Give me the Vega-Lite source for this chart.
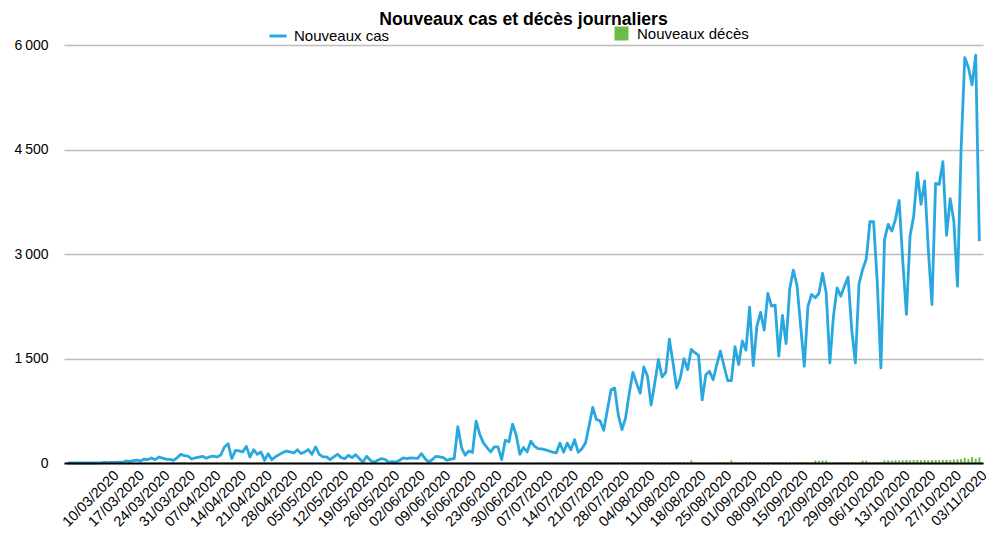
{
"$schema": "https://vega.github.io/schema/vega-lite/v6.json",
"width": 919, "height": 418,
"autosize": "none",
"padding": {"left": 64, "top": 45, "right": 17, "bottom": 84},
"background": "white",
"title": {"text": "Nouveaux cas et décès journaliers", "font": "Liberation Sans", "fontSize": 17.6, "fontWeight": "bold", "color": "black", "anchor": "middle", "offset": -3},
"data": {"values": [
{"date":"27/02/2020","cas":0,"deces":0},{"date":"28/02/2020","cas":0,"deces":0},{"date":"29/02/2020","cas":0,"deces":0},
{"date":"01/03/2020","cas":0,"deces":0},{"date":"02/03/2020","cas":1,"deces":0},{"date":"03/03/2020","cas":0,"deces":0},{"date":"04/03/2020","cas":1,"deces":0},{"date":"05/03/2020","cas":0,"deces":0},{"date":"06/03/2020","cas":2,"deces":1},{"date":"07/03/2020","cas":3,"deces":0},{"date":"08/03/2020","cas":8,"deces":1},{"date":"09/03/2020","cas":5,"deces":0},{"date":"10/03/2020","cas":10,"deces":1},{"date":"11/03/2020","cas":7,"deces":0},{"date":"12/03/2020","cas":12,"deces":1},{"date":"13/03/2020","cas":10,"deces":2},{"date":"14/03/2020","cas":29,"deces":1},{"date":"15/03/2020","cas":20,"deces":3},{"date":"16/03/2020","cas":35,"deces":2},{"date":"17/03/2020","cas":40,"deces":1},{"date":"18/03/2020","cas":30,"deces":4},{"date":"19/03/2020","cas":57,"deces":3},{"date":"20/03/2020","cas":50,"deces":2},{"date":"21/03/2020","cas":72,"deces":5},{"date":"22/03/2020","cas":48,"deces":4},{"date":"23/03/2020","cas":86,"deces":6},{"date":"24/03/2020","cas":70,"deces":3},{"date":"25/03/2020","cas":55,"deces":5},{"date":"26/03/2020","cas":52,"deces":4},{"date":"27/03/2020","cas":38,"deces":7},{"date":"28/03/2020","cas":75,"deces":5},{"date":"29/03/2020","cas":124,"deces":6},{"date":"30/03/2020","cas":105,"deces":8},{"date":"31/03/2020","cas":100,"deces":5},
{"date":"01/04/2020","cas":57,"deces":6},{"date":"02/04/2020","cas":75,"deces":5},{"date":"03/04/2020","cas":86,"deces":8},{"date":"04/04/2020","cas":96,"deces":7},{"date":"05/04/2020","cas":67,"deces":9},{"date":"06/04/2020","cas":90,"deces":6},{"date":"07/04/2020","cas":100,"deces":7},{"date":"08/04/2020","cas":86,"deces":8},{"date":"09/04/2020","cas":115,"deces":5},{"date":"10/04/2020","cas":230,"deces":6},{"date":"11/04/2020","cas":277,"deces":4},{"date":"12/04/2020","cas":62,"deces":7},{"date":"13/04/2020","cas":182,"deces":5},{"date":"14/04/2020","cas":175,"deces":6},{"date":"15/04/2020","cas":158,"deces":4},{"date":"16/04/2020","cas":239,"deces":5},{"date":"17/04/2020","cas":86,"deces":3},{"date":"18/04/2020","cas":191,"deces":4},{"date":"19/04/2020","cas":124,"deces":5},{"date":"20/04/2020","cas":158,"deces":3},{"date":"21/04/2020","cas":38,"deces":4},{"date":"22/04/2020","cas":134,"deces":2},{"date":"23/04/2020","cas":48,"deces":3},{"date":"24/04/2020","cas":90,"deces":4},{"date":"25/04/2020","cas":120,"deces":2},{"date":"26/04/2020","cas":150,"deces":3},{"date":"27/04/2020","cas":172,"deces":2},{"date":"28/04/2020","cas":160,"deces":3},{"date":"29/04/2020","cas":143,"deces":1},{"date":"30/04/2020","cas":191,"deces":2},
{"date":"01/05/2020","cas":135,"deces":2},{"date":"02/05/2020","cas":159,"deces":1},{"date":"03/05/2020","cas":193,"deces":3},{"date":"04/05/2020","cas":125,"deces":2},{"date":"05/05/2020","cas":231,"deces":1},{"date":"06/05/2020","cas":125,"deces":2},{"date":"07/05/2020","cas":87,"deces":1},{"date":"08/05/2020","cas":87,"deces":2},{"date":"09/05/2020","cas":48,"deces":3},{"date":"10/05/2020","cas":90,"deces":1},{"date":"11/05/2020","cas":125,"deces":2},{"date":"12/05/2020","cas":77,"deces":1},{"date":"13/05/2020","cas":63,"deces":1},{"date":"14/05/2020","cas":111,"deces":2},{"date":"15/05/2020","cas":77,"deces":1},{"date":"16/05/2020","cas":120,"deces":0},{"date":"17/05/2020","cas":63,"deces":1},{"date":"18/05/2020","cas":14,"deces":2},{"date":"19/05/2020","cas":96,"deces":1},{"date":"20/05/2020","cas":39,"deces":0},{"date":"21/05/2020","cas":10,"deces":1},{"date":"22/05/2020","cas":40,"deces":1},{"date":"23/05/2020","cas":63,"deces":0},{"date":"24/05/2020","cas":53,"deces":1},{"date":"25/05/2020","cas":14,"deces":0},{"date":"26/05/2020","cas":20,"deces":1},{"date":"27/05/2020","cas":14,"deces":0},{"date":"28/05/2020","cas":39,"deces":1},{"date":"29/05/2020","cas":72,"deces":0},{"date":"30/05/2020","cas":63,"deces":1},{"date":"31/05/2020","cas":72,"deces":0},
{"date":"01/06/2020","cas":70,"deces":0},{"date":"02/06/2020","cas":67,"deces":1},{"date":"03/06/2020","cas":135,"deces":0},{"date":"04/06/2020","cas":63,"deces":1},{"date":"05/06/2020","cas":14,"deces":0},{"date":"06/06/2020","cas":50,"deces":1},{"date":"07/06/2020","cas":96,"deces":0},{"date":"08/06/2020","cas":87,"deces":0},{"date":"09/06/2020","cas":77,"deces":1},{"date":"10/06/2020","cas":39,"deces":0},{"date":"11/06/2020","cas":55,"deces":1},{"date":"12/06/2020","cas":63,"deces":0},{"date":"13/06/2020","cas":520,"deces":1},{"date":"14/06/2020","cas":222,"deces":2},{"date":"15/06/2020","cas":111,"deces":1},{"date":"16/06/2020","cas":173,"deces":1},{"date":"17/06/2020","cas":150,"deces":2},{"date":"18/06/2020","cas":602,"deces":1},{"date":"19/06/2020","cas":415,"deces":2},{"date":"20/06/2020","cas":289,"deces":3},{"date":"21/06/2020","cas":222,"deces":1},{"date":"22/06/2020","cas":159,"deces":2},{"date":"23/06/2020","cas":231,"deces":1},{"date":"24/06/2020","cas":231,"deces":2},{"date":"25/06/2020","cas":48,"deces":3},{"date":"26/06/2020","cas":328,"deces":2},{"date":"27/06/2020","cas":304,"deces":1},{"date":"28/06/2020","cas":559,"deces":2},{"date":"29/06/2020","cas":400,"deces":3},{"date":"30/06/2020","cas":125,"deces":2},
{"date":"01/07/2020","cas":222,"deces":2},{"date":"02/07/2020","cas":159,"deces":3},{"date":"03/07/2020","cas":313,"deces":1},{"date":"04/07/2020","cas":241,"deces":3},{"date":"05/07/2020","cas":207,"deces":2},{"date":"06/07/2020","cas":203,"deces":4},{"date":"07/07/2020","cas":189,"deces":3},{"date":"08/07/2020","cas":172,"deces":2},{"date":"09/07/2020","cas":155,"deces":4},{"date":"10/07/2020","cas":145,"deces":3},{"date":"11/07/2020","cas":286,"deces":5},{"date":"12/07/2020","cas":155,"deces":2},{"date":"13/07/2020","cas":286,"deces":4},{"date":"14/07/2020","cas":189,"deces":3},{"date":"15/07/2020","cas":334,"deces":5},{"date":"16/07/2020","cas":155,"deces":4},{"date":"17/07/2020","cas":203,"deces":6},{"date":"18/07/2020","cas":286,"deces":5},{"date":"19/07/2020","cas":540,"deces":7},{"date":"20/07/2020","cas":799,"deces":6},{"date":"21/07/2020","cas":624,"deces":8},{"date":"22/07/2020","cas":605,"deces":5},{"date":"23/07/2020","cas":469,"deces":7},{"date":"24/07/2020","cas":760,"deces":9},{"date":"25/07/2020","cas":1050,"deces":8},{"date":"26/07/2020","cas":1075,"deces":10},{"date":"27/07/2020","cas":687,"deces":9},{"date":"28/07/2020","cas":479,"deces":11},{"date":"29/07/2020","cas":649,"deces":8},{"date":"30/07/2020","cas":1002,"deces":12},{"date":"31/07/2020","cas":1302,"deces":10},
{"date":"01/08/2020","cas":1147,"deces":11},{"date":"02/08/2020","cas":1002,"deces":12},{"date":"03/08/2020","cas":1379,"deces":10},{"date":"04/08/2020","cas":1244,"deces":12},{"date":"05/08/2020","cas":832,"deces":11},{"date":"06/08/2020","cas":1147,"deces":13},{"date":"07/08/2020","cas":1486,"deces":10},{"date":"08/08/2020","cas":1234,"deces":12},{"date":"09/08/2020","cas":1302,"deces":11},{"date":"10/08/2020","cas":1776,"deces":12},{"date":"11/08/2020","cas":1437,"deces":13},{"date":"12/08/2020","cas":1075,"deces":12},{"date":"13/08/2020","cas":1220,"deces":11},{"date":"14/08/2020","cas":1496,"deces":12},{"date":"15/08/2020","cas":1341,"deces":10},{"date":"16/08/2020","cas":1631,"deces":35},{"date":"17/08/2020","cas":1583,"deces":11},{"date":"18/08/2020","cas":1544,"deces":12},{"date":"19/08/2020","cas":905,"deces":10},{"date":"20/08/2020","cas":1268,"deces":11},{"date":"21/08/2020","cas":1316,"deces":12},{"date":"22/08/2020","cas":1195,"deces":11},{"date":"23/08/2020","cas":1413,"deces":13},{"date":"24/08/2020","cas":1607,"deces":12},{"date":"25/08/2020","cas":1389,"deces":10},{"date":"26/08/2020","cas":1181,"deces":12},{"date":"27/08/2020","cas":1181,"deces":35},{"date":"28/08/2020","cas":1670,"deces":12},{"date":"29/08/2020","cas":1413,"deces":11},{"date":"30/08/2020","cas":1752,"deces":12},{"date":"31/08/2020","cas":1620,"deces":13},
{"date":"01/09/2020","cas":2236,"deces":12},{"date":"02/09/2020","cas":1399,"deces":11},{"date":"03/09/2020","cas":1960,"deces":13},{"date":"04/09/2020","cas":2163,"deces":12},{"date":"05/09/2020","cas":1906,"deces":10},{"date":"06/09/2020","cas":2433,"deces":13},{"date":"07/09/2020","cas":2251,"deces":12},{"date":"08/09/2020","cas":2266,"deces":11},{"date":"09/09/2020","cas":1533,"deces":13},{"date":"10/09/2020","cas":2117,"deces":12},{"date":"11/09/2020","cas":1715,"deces":10},{"date":"12/09/2020","cas":2500,"deces":13},{"date":"13/09/2020","cas":2769,"deces":12},{"date":"14/09/2020","cas":2548,"deces":11},{"date":"15/09/2020","cas":1964,"deces":13},{"date":"16/09/2020","cas":1389,"deces":12},{"date":"17/09/2020","cas":2251,"deces":11},{"date":"18/09/2020","cas":2419,"deces":13},{"date":"19/09/2020","cas":2371,"deces":35},{"date":"20/09/2020","cas":2433,"deces":33},{"date":"21/09/2020","cas":2721,"deces":36},{"date":"22/09/2020","cas":2443,"deces":34},{"date":"23/09/2020","cas":1437,"deces":12},{"date":"24/09/2020","cas":2108,"deces":13},{"date":"25/09/2020","cas":2515,"deces":11},{"date":"26/09/2020","cas":2395,"deces":13},{"date":"27/09/2020","cas":2539,"deces":12},{"date":"28/09/2020","cas":2668,"deces":13},{"date":"29/09/2020","cas":1916,"deces":11},{"date":"30/09/2020","cas":1437,"deces":12},
{"date":"01/10/2020","cas":2572,"deces":13},{"date":"02/10/2020","cas":2778,"deces":34},{"date":"03/10/2020","cas":2931,"deces":33},{"date":"04/10/2020","cas":3463,"deces":13},{"date":"05/10/2020","cas":3463,"deces":12},{"date":"06/10/2020","cas":2600,"deces":13},{"date":"07/10/2020","cas":1365,"deces":12},{"date":"08/10/2020","cas":3209,"deces":36},{"date":"09/10/2020","cas":3425,"deces":38},{"date":"10/10/2020","cas":3329,"deces":35},{"date":"11/10/2020","cas":3497,"deces":40},{"date":"12/10/2020","cas":3770,"deces":37},{"date":"13/10/2020","cas":2900,"deces":39},{"date":"14/10/2020","cas":2132,"deces":42},{"date":"15/10/2020","cas":3257,"deces":38},{"date":"16/10/2020","cas":3545,"deces":41},{"date":"17/10/2020","cas":4167,"deces":44},{"date":"18/10/2020","cas":3712,"deces":40},{"date":"19/10/2020","cas":4048,"deces":43},{"date":"20/10/2020","cas":3066,"deces":39},{"date":"21/10/2020","cas":2275,"deces":42},{"date":"22/10/2020","cas":4014,"deces":45},{"date":"23/10/2020","cas":4000,"deces":41},{"date":"24/10/2020","cas":4325,"deces":44},{"date":"25/10/2020","cas":3267,"deces":47},{"date":"26/10/2020","cas":3794,"deces":43},{"date":"27/10/2020","cas":3473,"deces":48},{"date":"28/10/2020","cas":2539,"deces":52},{"date":"29/10/2020","cas":4503,"deces":58},{"date":"30/10/2020","cas":5820,"deces":72},{"date":"31/10/2020","cas":5676,"deces":55},
{"date":"01/11/2020","cas":5427,"deces":85},{"date":"02/11/2020","cas":5853,"deces":62},{"date":"03/11/2020","cas":3185,"deces":80}
]},
"encoding": {
  "x": {"field": "date", "type": "ordinal", "sort": null,
        "scale": {"type": "point", "padding": 1.72},
        "axis": {"title": null, "values": ["10/03/2020","17/03/2020","24/03/2020","31/03/2020","07/04/2020","14/04/2020","21/04/2020","28/04/2020","05/05/2020","12/05/2020","19/05/2020","26/05/2020","02/06/2020","09/06/2020","16/06/2020","23/06/2020","30/06/2020","07/07/2020","14/07/2020","21/07/2020","28/07/2020","04/08/2020","11/08/2020","18/08/2020","25/08/2020","01/09/2020","08/09/2020","15/09/2020","22/09/2020","29/09/2020","06/10/2020","13/10/2020","20/10/2020","27/10/2020","03/11/2020"],
                 "labelAngle": -45, "ticks": false, "grid": false, "domain": true, "domainColor": "black", "domainWidth": 2,
                 "labelFont": "Liberation Sans", "labelFontSize": 14.5, "labelColor": "black", "labelPadding": 5, "labelOverlap": false, "zindex": 1}}
},
"layer": [
  {"mark": {"type": "bar", "size": 2},
   "encoding": {
     "y": {"field": "deces", "type": "quantitative", "scale": {"domain": [0, 6000], "nice": false},
           "axis": {"title": null, "values": [0, 1500, 3000, 4500, 6000], "domain": false, "ticks": false, "grid": true, "gridColor": "#bdbdbd", "gridWidth": 1.5, "labelFont": "Liberation Sans", "labelFontSize": 14, "labelColor": "black", "labelPadding": 16, "labelExpr": "datum.value >= 1000 ? replace(format(datum.value, ','), ',', '\u2009') : datum.label"}},
     "fill": {"datum": "Nouveaux décès", "scale": {"range": ["#6abd45"]},
              "legend": {"orient": "none", "legendX": 550, "legendY": -19, "title": null, "symbolType": "square", "symbolSize": 196, "symbolStrokeWidth": 0, "labelFont": "Liberation Sans", "labelFontSize": 15, "labelColor": "black", "labelOffset": 8, "padding": 0}}
   }},
  {"mark": {"type": "line", "strokeWidth": 2.8, "strokeJoin": "round"},
   "encoding": {
     "y": {"field": "cas", "type": "quantitative",
           "axis": {"title": null, "values": [0, 1500, 3000, 4500, 6000], "domain": false, "ticks": false, "grid": true, "gridColor": "#bdbdbd", "gridWidth": 1.5, "labelFont": "Liberation Sans", "labelFontSize": 14, "labelColor": "black", "labelPadding": 16, "labelExpr": "datum.value >= 1000 ? replace(format(datum.value, ','), ',', '\u2009') : datum.label"}},
     "stroke": {"datum": "Nouveaux cas", "scale": {"range": ["#29a8e0"]},
                "legend": {"orient": "none", "legendX": 204, "legendY": -19, "title": null, "symbolType": "stroke", "symbolSize": 289, "symbolStrokeWidth": 3, "labelFont": "Liberation Sans", "labelFontSize": 15, "labelColor": "black", "labelOffset": 6, "padding": 0}}
   }}
],
"config": {"view": {"stroke": null}, "font": "Liberation Sans"}
}
